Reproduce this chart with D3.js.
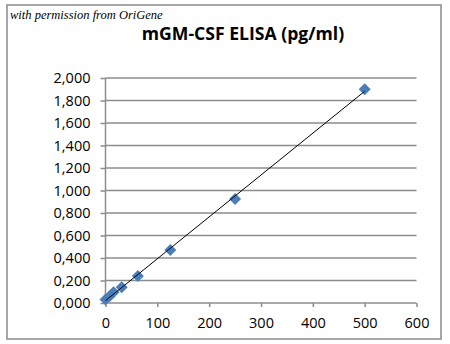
<!DOCTYPE html>
<html><head><meta charset="utf-8">
<script src="https://cdn.jsdelivr.net/npm/d3@7"></script>
<style>html,body{margin:0;padding:0;background:#fff;}svg{display:block;}</style>
</head><body>
<svg id="c" width="450" height="344"></svg>
<script>
const concentrations = [0, 7.8, 15.6, 31.25, 62.5, 125, 250, 500];
const absorbance = [0.03, 0.06, 0.095, 0.14, 0.24, 0.47, 0.925, 1.90];
const xTicks = [0, 100, 200, 300, 400, 500, 600];
const yTicks = [0, 0.2, 0.4, 0.6, 0.8, 1.0, 1.2, 1.4, 1.6, 1.8, 2.0];
const titleText = "mGM-CSF ELISA (pg/ml)";
const creditText = "with permission from OriGene";

const svg = d3.select("#c");
const fontFam = "'Open Sans', 'DejaVu Sans', sans-serif";

svg.append("rect").attr("x",7).attr("y",5).attr("width",434).attr("height",334)
  .attr("fill","#fff").attr("stroke","#8a8a8a").attr("stroke-width",1.5);

const x = d3.scaleLinear().domain([0,600]).range([105.5,416.5]);
const y = d3.scaleLinear().domain([0,2]).range([303,78]);
const fmt = v => d3.format(",.3f")(v).replace(".", ",");

// gridlines
svg.append("g").selectAll("line").data(yTicks.filter(v=>v>0)).join("line")
  .attr("x1",x(0)).attr("x2",x(600)).attr("y1",d=>y(d)).attr("y2",d=>y(d))
  .attr("stroke","#8c8c8c").attr("stroke-width",1.5);

// y axis
const yAxis = svg.append("g").attr("transform",`translate(${x(0)},0)`)
  .call(d3.axisLeft(y).tickValues(yTicks).tickFormat(fmt).tickSize(5).tickPadding(10));
// x axis
const xAxis = svg.append("g").attr("transform",`translate(0,${y(0)})`)
  .call(d3.axisBottom(x).tickValues(xTicks).tickSize(4).tickPadding(11).tickFormat(d3.format("d")));
[yAxis,xAxis].forEach(a=>{
  a.select(".domain").attr("stroke","#8c8c8c").attr("stroke-width",1.5);
  a.selectAll(".tick line").attr("stroke","#8c8c8c").attr("stroke-width",1.5);
  a.selectAll("text").attr("fill","#000").style("font-family",fontFam).style("font-size","14.5px");
});
xAxis.select(".domain").attr("d",`M${x(0)},0H${x(600)}`);
yAxis.select(".domain").attr("d",`M0,${y(0)}V${y(2)}`);

// linear trendline
const mx = d3.mean(concentrations), my = d3.mean(absorbance);
let sxy=0, sxx=0;
concentrations.forEach((c,i)=>{sxy+=(c-mx)*(absorbance[i]-my); sxx+=(c-mx)*(c-mx);});
const slope = sxy/sxx, icpt = my - slope*mx;
const ext = d3.extent(concentrations);

// markers
svg.append("g").selectAll("path").data(concentrations).join("path")
  .attr("d", d3.symbol().type(d3.symbolSquare).size(72))
  .attr("transform",(d,i)=>`translate(${x(d)},${y(absorbance[i])}) rotate(45)`)
  .attr("fill","#4a7ebb");
// trendline drawn on top of markers
svg.append("line").attr("x1",x(ext[0])).attr("y1",y(icpt+slope*ext[0]))
  .attr("x2",x(ext[1])).attr("y2",y(icpt+slope*ext[1]))
  .attr("stroke","#000").attr("stroke-width",1);

svg.append("text").attr("x",243).attr("y",40).attr("text-anchor","middle")
  .style("font-family",fontFam).style("font-weight","bold").style("font-size","17.6px")
  .text(titleText);
svg.append("text").attr("x",10).attr("y",19)
  .style("font-family","'Liberation Serif', serif").style("font-style","italic").style("font-size","12.5px")
  .text(creditText);
</script>
</body></html>
